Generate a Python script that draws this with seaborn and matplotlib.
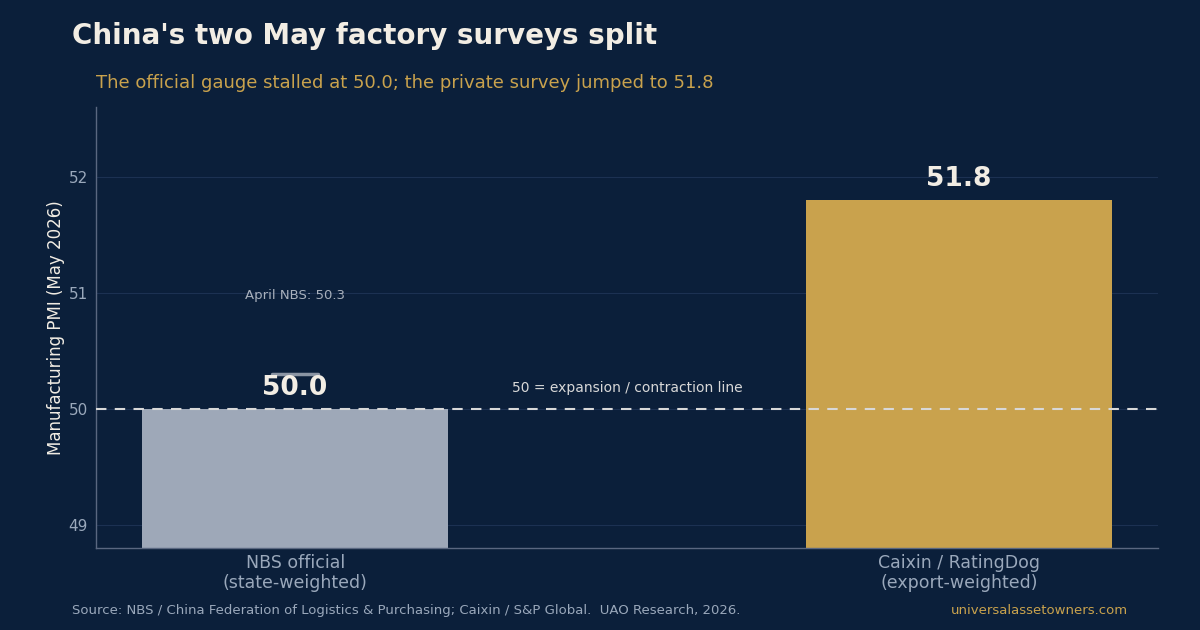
import numpy as np
import pandas as pd
import seaborn as sns
import matplotlib.pyplot as plt

# dados
surveys = ['NBS official\n(state-weighted)', 'Caixin / RatingDog\n(export-weighted)']
pmi_may = [50.0, 51.8]
pmi_april_nbs = 50.3
bar_colors = ['#9ea8b8', '#c9a24d']

BG = '#0b1f3a'
TXT = '#f2ede4'
GOLD = '#c9a24d'
GREY = '#9aa8bb'

df = pd.DataFrame({'survey': surveys, 'pmi': pmi_may})

sns.set_theme(style='dark')
plt.rcParams['font.family'] = ['DejaVu Sans']

fig, ax = plt.subplots(figsize=(12, 6.3), dpi=100)
fig.patch.set_facecolor(BG)
ax.set_facecolor(BG)
fig.subplots_adjust(left=0.08, right=0.965, top=0.83, bottom=0.13)

sns.barplot(data=df, x='survey', y='pmi', hue='survey', palette=bar_colors,
            width=0.46, legend=False, ax=ax, saturation=1, linewidth=0)
ax.set_ylim(48.8, 52.6)
ax.set_xlim(-0.3, 1.3)

# linha 50
ax.axhline(50, color='#d8d8d8', lw=1.5, ls=(0, (5, 4)), zorder=3)
ax.text(0.5, 50.12, '50 = expansion / contraction line', ha='center', va='bottom',
        color='#d8d8d8', fontsize=10)

# marcador de abril
ax.plot([-0.035, 0.035], [pmi_april_nbs, pmi_april_nbs], color='#8a94a3', lw=2.5, zorder=4)
ax.text(0, 50.98, 'April NBS: 50.3', ha='center', va='center', color='#a8b0bc', fontsize=9.5)

# rótulos dos valores
for i, v in enumerate(pmi_may):
    ax.text(i, v + 0.065, f'{v:.1f}', ha='center', va='bottom', color=TXT,
            fontsize=19, fontweight='bold', zorder=5)

ax.set_yticks([49, 50, 51, 52])
ax.grid(axis='y', color='#1c3152', lw=0.8)
ax.grid(axis='x', visible=False)
ax.set_axisbelow(True)
ax.tick_params(axis='y', colors=GREY, labelsize=11, length=0, pad=6)
ax.tick_params(axis='x', colors=GREY, labelsize=12.5, length=0, pad=4)
ax.set_xlabel('')
ax.set_ylabel('Manufacturing PMI (May 2026)', color=TXT, fontsize=12)
ax.yaxis.set_label_coords(-0.029, 0.5)
for s in ['top', 'right']:
    ax.spines[s].set_visible(False)
for s in ['left', 'bottom']:
    ax.spines[s].set_visible(True)
    ax.spines[s].set_color('#5a6780')
    ax.spines[s].set_linewidth(1)

fig.text(0.06, 0.943, "China's two May factory surveys split", color=TXT,
         fontsize=20, fontweight='bold', va='center')
fig.text(0.08, 0.868, 'The official gauge stalled at 50.0; the private survey jumped to 51.8',
         color=GOLD, fontsize=13, va='center')
fig.text(0.06, 0.031, 'Source: NBS / China Federation of Logistics & Purchasing; Caixin / S&P Global.  UAO Research, 2026.',
         color=GREY, fontsize=9.5, va='center')
fig.text(0.94, 0.031, 'universalassetowners.com', color=GOLD, fontsize=9.5, va='center', ha='right')

plt.savefig('out.png', dpi=100, facecolor=BG)
